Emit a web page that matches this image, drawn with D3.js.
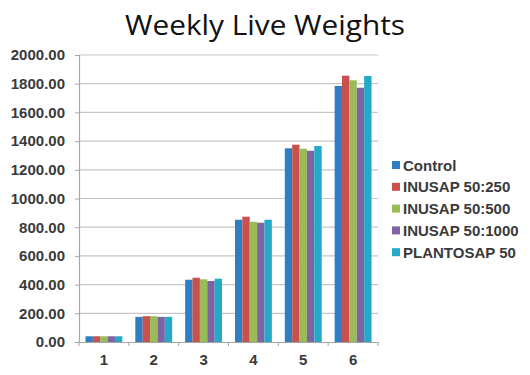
<!DOCTYPE html>
<html>
<head>
<meta charset="utf-8">
<script src="https://cdn.jsdelivr.net/npm/d3@7"></script>
<style>
  body { margin: 0; background: #fff; }
  svg { display: block; }
</style>
</head>
<body>
<div id="chart"></div>
<script>
// chart data
const weeks = ['1', '2', '3', '4', '5', '6'];
const seriesNames = ['Control', 'INUSAP 50:250', 'INUSAP 50:500', 'INUSAP 50:1000', 'PLANTOSAP 50'];
const control = [40, 175, 434, 852, 1350, 1784];
const inusap250 = [40, 180, 448, 873, 1375, 1856];
const inusap500 = [40, 180, 437, 838, 1347, 1824];
const inusap1000 = [40, 175, 425, 831, 1333, 1772];
const plantosap = [40, 175, 441, 852, 1366, 1854];
const yTicks = [0, 200, 400, 600, 800, 1000, 1200, 1400, 1600, 1800, 2000];

const seriesValues = [control, inusap250, inusap500, inusap1000, plantosap];
const colors = ['#2f7dc3', '#c9504d', '#9bbb59', '#7f64a5', '#24a9c8'];

const width = 530, height = 375;
const plot = { left: 79, right: 378, top: 55, bottom: 342 };
const labelFont = 'Liberation Sans, Arial, sans-serif';

const svg = d3.select('#chart').append('svg')
    .attr('width', width)
    .attr('height', height);

// title
svg.append('text')
    .attr('x', 265)
    .attr('y', 35)
    .attr('text-anchor', 'middle')
    .attr('font-family', 'Open Sans, sans-serif')
    .attr('font-size', 27)
    .attr('textLength', 280)
    .attr('lengthAdjust', 'spacingAndGlyphs')
    .attr('fill', '#111')
    .text('Weekly Live Weights');

const x = d3.scaleBand().domain(weeks).range([plot.left, plot.right]).paddingInner(0.26).paddingOuter(0.13);
const xInner = d3.scaleBand().domain(d3.range(seriesNames.length)).range([0, x.bandwidth()]);
const y = d3.scaleLinear().domain([0, 2000]).range([plot.bottom, plot.top]);

// gridlines
svg.append('g')
    .selectAll('line')
    .data(yTicks.slice(1))
    .enter()
    .append('line')
    .attr('x1', plot.left)
    .attr('x2', plot.right)
    .attr('y1', d => y(d))
    .attr('y2', d => y(d))
    .attr('stroke', '#c6c6c6')
    .attr('stroke-width', 1.2);

// bars
weeks.forEach((w, i) => {
    svg.append('g')
        .selectAll('rect')
        .data(seriesValues.map((s, k) => ({ k: k, v: s[i] })))
        .enter()
        .append('rect')
        .attr('x', d => x(w) + xInner(d.k))
        .attr('width', xInner.bandwidth())
        .attr('y', d => y(d.v))
        .attr('height', d => y(0) - y(d.v))
        .attr('fill', d => colors[d.k]);
});

// y axis
const yAxis = svg.append('g')
    .attr('transform', `translate(${plot.left},0)`)
    .call(d3.axisLeft(y).tickValues(yTicks).tickFormat(d3.format('.2f')).tickSize(4).tickPadding(10));
yAxis.select('.domain').attr('stroke', '#a6a6a6').attr('stroke-width', 1.2);
yAxis.selectAll('.tick line').attr('stroke', '#a6a6a6');
yAxis.selectAll('text')
    .attr('font-family', labelFont)
    .attr('font-size', 15)
    .attr('font-weight', 'bold')
    .attr('fill', '#3a3a3a');

// x axis
const xAxis = svg.append('g')
    .attr('transform', `translate(0,${plot.bottom})`)
    .call(d3.axisBottom(x).tickSize(0).tickPadding(12));
xAxis.select('.domain').attr('stroke', '#a6a6a6').attr('stroke-width', 1.2);
xAxis.selectAll('text')
    .attr('font-family', labelFont)
    .attr('font-size', 15)
    .attr('font-weight', 'bold')
    .attr('fill', '#3a3a3a');

// category boundary ticks
svg.append('g')
    .selectAll('line')
    .data(d3.range(weeks.length + 1))
    .enter()
    .append('line')
    .attr('x1', d => plot.left + d * (plot.right - plot.left) / weeks.length)
    .attr('x2', d => plot.left + d * (plot.right - plot.left) / weeks.length)
    .attr('y1', plot.bottom)
    .attr('y2', plot.bottom + 4)
    .attr('stroke', '#a6a6a6');

// legend
const legend = svg.append('g').attr('transform', 'translate(392,165)');
const rows = legend.selectAll('g')
    .data(seriesNames)
    .enter()
    .append('g')
    .attr('transform', (d, i) => `translate(0,${i * 21.8})`);
rows.append('rect')
    .attr('x', 0)
    .attr('y', -4)
    .attr('width', 8)
    .attr('height', 8)
    .attr('fill', (d, i) => colors[i]);
rows.append('text')
    .attr('x', 11)
    .attr('y', 5.5)
    .attr('font-family', labelFont)
    .attr('font-size', 15)
    .attr('font-weight', 'bold')
    .attr('fill', '#3a3a3a')
    .text(d => d);
</script>
</body>
</html>
